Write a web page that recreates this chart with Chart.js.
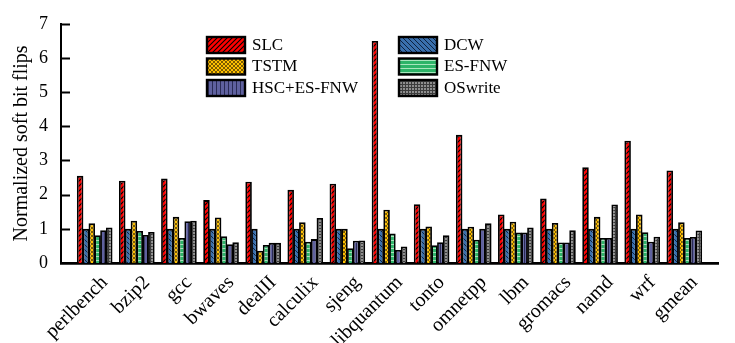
<!DOCTYPE html>
<html lang="en">
<head>
  <meta charset="UTF-8" />
  <title>Normalized soft bit flips</title>
  <style>
    * { margin: 0; padding: 0; box-sizing: border-box; }
    body { background: #fff; font-family: "Liberation Serif", serif; }
    .chart-box { width: 735px; height: 343px; position: relative; }
  </style>
</head>
<body>
  <div class="chart-box">
    <canvas id="flipsChart"></canvas>
  </div>

  <script src="https://cdn.jsdelivr.net/npm/chart.js"></script>
  <script>
    // benchmarks and series
    const benchmarks = ['perlbench', 'bzip2', 'gcc', 'bwaves', 'dealII', 'calculix', 'sjeng', 'libquantum',
                        'tonto', 'omnetpp', 'lbm', 'gromacs', 'namd', 'wrf', 'gmean'];
    const slc     = [2.55, 2.41, 2.47, 1.84, 2.38, 2.14, 2.32, 6.50, 1.72, 3.75, 1.42, 1.89, 2.80, 3.58, 2.71];
    const dcw     = [1, 1, 1, 1, 1, 1, 1, 1, 1, 1, 1, 1, 1, 1, 1];
    const tstm    = [1.16, 1.24, 1.35, 1.33, 0.36, 1.19, 1.00, 1.56, 1.07, 1.06, 1.21, 1.17, 1.35, 1.42, 1.19];
    const esFnw   = [0.81, 0.94, 0.73, 0.78, 0.53, 0.62, 0.43, 0.86, 0.52, 0.68, 0.89, 0.60, 0.73, 0.90, 0.73];
    const hscEsFnw = [0.96, 0.82, 1.22, 0.55, 0.59, 0.70, 0.65, 0.38, 0.61, 1.00, 0.89, 0.60, 0.73, 0.62, 0.76];
    const osWrite = [1.04, 0.91, 1.24, 0.61, 0.59, 1.32, 0.66, 0.48, 0.81, 1.16, 1.04, 0.96, 1.71, 0.77, 0.95];
    const yTicks  = [0, 1, 2, 3, 4, 5, 6, 7];

    const FONT = '"Liberation Serif"';

    // small hatch tiles for the bar fills
    function hatch(bg, size, draw) {
      const c = document.createElement('canvas');
      c.width = size; c.height = size;
      const g = c.getContext('2d');
      g.fillStyle = bg;
      g.fillRect(0, 0, size, size);
      draw(g, size);
      return g.createPattern(c, 'repeat');
    }

    const fills = {
      slc: hatch('#ff0000', 5, (g, s) => {
        g.strokeStyle = '#000'; g.lineWidth = 1.1;
        g.beginPath();
        g.moveTo(0, s); g.lineTo(s, 0);
        g.moveTo(-1, 1); g.lineTo(1, -1);
        g.moveTo(s - 1, s + 1); g.lineTo(s + 1, s - 1);
        g.stroke();
      }),
      dcw: hatch('#3a70ad', 5, (g, s) => {
        g.strokeStyle = '#0d2240'; g.lineWidth = 1;
        g.beginPath();
        g.moveTo(0, 0); g.lineTo(s, s);
        g.moveTo(s - 1, -1); g.lineTo(s + 1, 1);
        g.moveTo(-1, s - 1); g.lineTo(1, s + 1);
        g.stroke();
      }),
      tstm: hatch('#ffc000', 4, (g, s) => {
        g.strokeStyle = '#5a4300'; g.lineWidth = 0.8;
        g.beginPath();
        g.moveTo(0, 0); g.lineTo(s, s);
        g.moveTo(0, s); g.lineTo(s, 0);
        g.stroke();
      }),
      esFnw: hatch('#2db468', 4, (g, s) => {
        g.fillStyle = '#a8e6bd';
        g.fillRect(0, 0, s, 1);
      }),
      hsc: hatch('#5f619f', 4, (g, s) => {
        g.fillStyle = '#2a2b55';
        g.fillRect(0, 0, 1, s);
      }),
      osWrite: hatch('#8e8e8e', 3, (g, s) => {
        g.fillStyle = '#3c3c3c';
        g.fillRect(0, 0, s, 1);
        g.fillRect(0, 0, 1, s);
      })
    };

    const toPoints = arr => arr.map((v, i) => ({ x: i, y: v }));

    const seriesDefs = [
      { label: 'SLC', data: slc, fill: fills.slc },
      { label: 'DCW', data: dcw, fill: fills.dcw },
      { label: 'TSTM', data: tstm, fill: fills.tstm },
      { label: 'ES-FNW', data: esFnw, fill: fills.esFnw },
      { label: 'HSC+ES-FNW', data: hscEsFnw, fill: fills.hsc },
      { label: 'OSwrite', data: osWrite, fill: fills.osWrite }
    ];

    // legend drawn inside the plot, two columns x three rows
    const innerLegend = {
      id: 'innerLegend',
      beforeDatasetsDraw(chart) {
        const ctx = chart.ctx;
        const cols = [207, 399];
        const rows = [37, 58.5, 80];
        ctx.save();
        ctx.font = '17px ' + FONT;
        ctx.textBaseline = 'middle';
        seriesDefs.forEach((s, i) => {
          const x = cols[i % 2], y = rows[Math.floor(i / 2)];
          ctx.fillStyle = s.fill;
          ctx.fillRect(x, y, 38, 16);
          ctx.strokeStyle = '#000';
          ctx.lineWidth = 2.4;
          ctx.strokeRect(x, y, 38, 16);
          ctx.fillStyle = '#000';
          ctx.fillText(s.label, x + 45, y + 8.5);
        });
        ctx.restore();
      }
    };

    // inward tick marks on the y axis
    const inwardTicks = {
      id: 'inwardTicks',
      afterDraw(chart) {
        const ctx = chart.ctx;
        const y = chart.scales.y;
        const left = chart.chartArea.left;
        ctx.save();
        ctx.strokeStyle = '#000';
        ctx.lineWidth = 2;
        yTicks.slice(1).forEach(v => {
          const py = Math.round(y.getPixelForValue(v)) + 0.5;
          ctx.beginPath();
          ctx.moveTo(left, py);
          ctx.lineTo(left + 9, py);
          ctx.stroke();
        });
        ctx.restore();
      }
    };

    function drawChart() {
      new Chart(document.getElementById('flipsChart'), {
        type: 'bar',
        data: {
          datasets: seriesDefs.map(s => ({
            label: s.label,
            data: toPoints(s.data),
            backgroundColor: s.fill,
            borderColor: '#000',
            borderWidth: 1.8,
            categoryPercentage: 0.83,
            barPercentage: 1.12
          }))
        },
        options: {
          responsive: true,
          maintainAspectRatio: false,
          animation: false,
          layout: { padding: { top: 12, right: 17, left: 0, bottom: 0 } },
          plugins: {
            legend: { display: false },
            tooltip: { enabled: false }
          },
          scales: {
            x: {
              type: 'linear',
              offset: false,
              min: -0.8,
              max: 14.8,
              grid: { display: false },
              border: { display: true, color: '#000', width: 2.8 },
              afterBuildTicks: axis => {
                axis.ticks = benchmarks.map((b, i) => ({ value: i }));
              },
              afterFit: axis => { axis.height = 80; },
              ticks: {
                autoSkip: false,
                minRotation: 45,
                maxRotation: 45,
                padding: 0,
                labelOffset: 10,
                color: '#000',
                font: { family: FONT, size: 20 },
                callback: v => benchmarks[v]
              }
            },
            y: {
              min: 0,
              max: 7,
              grid: { display: false, drawTicks: false },
              border: { display: true, color: '#000', width: 2 },
              afterFit: axis => { axis.width = 61; },
              afterBuildTicks: axis => {
                axis.ticks = yTicks.map(v => ({ value: v }));
              },
              title: {
                display: true,
                text: 'Normalized soft bit flips',
                color: '#000',
                padding: { top: 10, bottom: 0 },
                font: { family: FONT, size: 20 }
              },
              ticks: {
                padding: 13,
                color: '#000',
                font: { family: FONT, size: 18 }
              }
            }
          }
        },
        plugins: [innerLegend, inwardTicks]
      });
    }

    document.fonts.load('18px "Liberation Serif"').then(drawChart, drawChart);
  </script>
</body>
</html>
